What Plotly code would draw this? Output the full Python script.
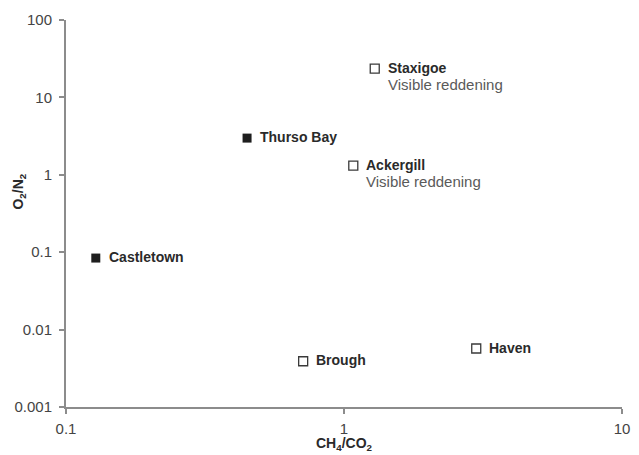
import math
import plotly.graph_objects as go

sites = ["Castletown", "Thurso Bay", "Staxigoe", "Ackergill", "Brough", "Haven"]
ch4_co2 = [0.128, 0.448, 1.29, 1.08, 0.713, 2.99]
o2_n2 = [0.084, 2.98, 23.5, 1.31, 0.0039, 0.0057]
filled = [True, True, False, False, False, False]
notes = ["", "", "Visible reddening", "Visible reddening", "", ""]

x_ticks = [0.1, 1, 10]
x_tick_text = ["0.1", "1", "10"]
y_ticks = [0.001, 0.01, 0.1, 1, 10, 100]
y_tick_text = ["0.001", "0.01", "0.1", "1", "10", "100"]

FONT = "Liberation Sans, Arial, Helvetica, sans-serif"
AXIS_COLOR = "#8c8c8c"

fig = go.Figure()

fx = [x for x, f in zip(ch4_co2, filled) if f]
fy = [y for y, f in zip(o2_n2, filled) if f]
ox = [x for x, f in zip(ch4_co2, filled) if not f]
oy = [y for y, f in zip(o2_n2, filled) if not f]

fig.add_trace(go.Scatter(x=fx, y=fy, mode="markers",
                         marker=dict(symbol="square", size=9, color="#1e1e1e",
                                     line=dict(width=0)),
                         showlegend=False, hoverinfo="skip"))
fig.add_trace(go.Scatter(x=ox, y=oy, mode="markers",
                         marker=dict(symbol="square", size=9, color="white",
                                     line=dict(width=1.3, color="#3a3a3a")),
                         showlegend=False, hoverinfo="skip"))

for name, x, y, note in zip(sites, ch4_co2, o2_n2, notes):
    lx, ly = math.log10(x), math.log10(y)
    fig.add_annotation(x=lx, y=ly, xref="x", yref="y",
                       text="<b>" + name + "</b>", showarrow=False,
                       xanchor="left", yanchor="middle", xshift=11, yshift=1,
                       font=dict(family=FONT, size=14, color="#2a2a2a"))
    if note:
        fig.add_annotation(x=lx, y=ly, xref="x", yref="y",
                           text=note, showarrow=False,
                           xanchor="left", yanchor="middle", xshift=11, yshift=-16,
                           font=dict(family=FONT, size=15, color="#5a5a5a"))

# axis titles
fig.add_annotation(x=0.5, y=-0.096, xref="paper", yref="paper",
                   text="<b>CH<sub>4</sub>/CO<sub>2</sub></b>", showarrow=False,
                   xanchor="center", yanchor="middle",
                   font=dict(family=FONT, size=14, color="#2a2a2a"))
fig.add_annotation(x=-0.085, y=0.556, xref="paper", yref="paper",
                   text="<b>O<sub>2</sub>/N<sub>2</sub></b>", showarrow=False,
                   textangle=-90, xanchor="center", yanchor="middle",
                   font=dict(family=FONT, size=14, color="#2a2a2a"))

fig.update_layout(
    width=639, height=455,
    margin=dict(l=66, r=9, t=20, b=48),
    paper_bgcolor="white", plot_bgcolor="white",
    font=dict(family=FONT, size=15, color="#444"),
    xaxis=dict(type="log", range=[-1, 1], tickvals=x_ticks, ticktext=x_tick_text,
               showgrid=False, zeroline=False, showline=True, linecolor=AXIS_COLOR,
               linewidth=2, ticks="outside", ticklen=5, tickcolor=AXIS_COLOR,
               tickwidth=1.5, ticklabelstandoff=2,
               tickfont=dict(family=FONT, size=15, color="#444")),
    yaxis=dict(type="log", range=[-3, 2], tickvals=y_ticks, ticktext=y_tick_text,
               showgrid=False, zeroline=False, showline=True, linecolor=AXIS_COLOR,
               linewidth=2, ticks="outside", ticklen=5, tickcolor=AXIS_COLOR,
               tickwidth=1.5, ticklabelstandoff=4,
               tickfont=dict(family=FONT, size=15, color="#444")),
)

fig.write_html("out.html")
